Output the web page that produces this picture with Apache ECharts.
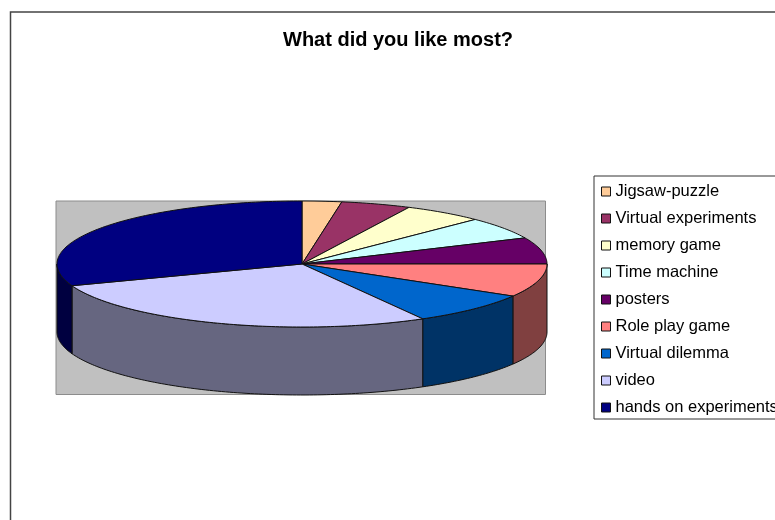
<!DOCTYPE html>
<html>
<head>
<meta charset="utf-8">
<style>html,body{margin:0;padding:0;background:#fff;overflow:hidden}#chart{width:775px;height:520px}</style>
<script src="https://cdn.jsdelivr.net/npm/echarts@6/dist/echarts.min.js"></script>
</head>
<body>
<div id="chart"></div>
<script>
// Survey answers, in percent of all responses
const categories = ['Jigsaw-puzzle', 'Virtual experiments', 'memory game', 'Time machine', 'posters', 'Role play game', 'Virtual dilemma', 'video', 'hands on experiments'];
const shares = [2.6, 4.6, 5.3, 5.7, 6.8, 8.5, 8.3, 27.6, 30.6];
const topColors = ['#FFCC99', '#993366', '#FFFFCC', '#CCFFFF', '#660066', '#FF8080', '#0066CC', '#CCCCFF', '#000080'];
const wallColors = ['#806650', '#4D1A33', '#808066', '#668080', '#330033', '#804040', '#003366', '#666680', '#000040'];

// Disc thickness, in units of the ellipse's vertical radius
const DEPTH = 1.079;
const total = shares.reduce((a, b) => a + b, 0);

// Cumulative start angle of each slice, clockwise from 12 o'clock, in degrees
const starts = [];
shares.reduce((sum, v, i) => { starts[i] = sum / total * 360; return sum + v; }, 0);

function rim(deg, drop) {
  const r = deg * Math.PI / 180;
  return [Math.sin(r), Math.cos(r) - drop];
}

function arc(from, to, drop) {
  const pts = [];
  const n = Math.max(2, Math.ceil(to - from));
  for (let k = 0; k <= n; k++) pts.push(rim(from + (to - from) * k / n, drop));
  return pts;
}

function sliceRenderer(index) {
  return function (params, api) {
    const from = starts[index];
    const to = from + api.value(0) / total * 360;
    const edge = { stroke: '#111', lineWidth: 1, lineJoin: 'round' };
    const children = [];
    // The side wall only shows on the front half of the disc
    const wFrom = Math.max(from, 90);
    const wTo = Math.min(to, 270);
    if (wTo > wFrom) {
      const wall = arc(wFrom, wTo, 0).concat(arc(wFrom, wTo, DEPTH).reverse());
      children.push({
        type: 'polygon',
        shape: { points: wall.map(p => api.coord(p)) },
        style: Object.assign({ fill: wallColors[index] }, edge)
      });
    }
    const face = [[0, 0]].concat(arc(from, to, 0));
    children.push({
      type: 'polygon',
      shape: { points: face.map(p => api.coord(p)) },
      style: Object.assign({ fill: topColors[index] }, edge)
    });
    return { type: 'group', children };
  };
}

const chart = echarts.init(document.getElementById('chart'), null, { renderer: 'canvas' });
chart.setOption({
  backgroundColor: '#fff',
  animation: false,
  title: {
    text: 'What did you like most?',
    left: 283,
    top: 30,
    padding: 0,
    textStyle: { fontFamily: 'Liberation Sans', fontSize: 20, fontWeight: 'bold', color: '#000' }
  },
  grid: { left: 57, top: 201, width: 490, height: 194 },
  xAxis: { type: 'value', min: -1, max: 1, show: false },
  yAxis: { type: 'value', min: -1 - DEPTH, max: 1, show: false },
  legend: {
    orient: 'vertical',
    left: 594,
    top: 176,
    padding: [6, 40, 2, 7],
    itemWidth: 9,
    itemHeight: 9,
    itemGap: 8,
    icon: 'rect',
    selectedMode: false,
    backgroundColor: '#fff',
    borderColor: '#333',
    borderWidth: 1,
    itemStyle: { borderColor: '#111', borderWidth: 1 },
    textStyle: { fontFamily: 'Liberation Sans', fontSize: 16.5, color: '#000', lineHeight: 19 },
    data: categories
  },
  graphic: [{
    // Grey plot backdrop behind the disc
    type: 'rect',
    silent: true,
    z: -1,
    shape: { x: 56, y: 201, width: 489.5, height: 193.5 },
    style: { fill: '#C0C0C0', stroke: '#8C8C8C', lineWidth: 1 }
  }, {
    // Outer chart frame, running past the page's right and bottom edges
    type: 'rect',
    silent: true,
    z: -1,
    shape: { x: 10.5, y: 12, width: 800, height: 560 },
    style: { fill: 'none', stroke: '#444', lineWidth: 1.5 }
  }],
  series: categories.map((name, i) => ({
    type: 'custom',
    name,
    clip: false,
    itemStyle: { color: topColors[i] },
    encode: { x: 1, y: 2 },
    data: [[shares[i], 0, 0]],
    renderItem: sliceRenderer(i)
  }))
});
</script>
</body>
</html>
